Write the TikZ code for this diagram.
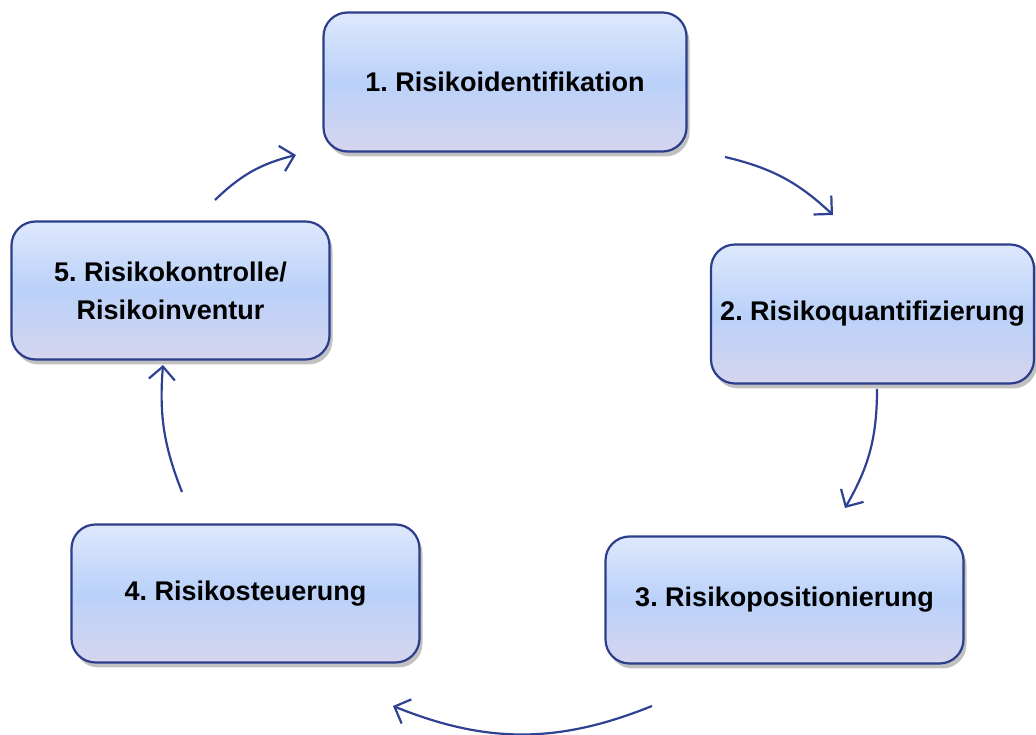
\documentclass[tikz,border=0pt]{standalone}
\usepackage{fontspec}
\setmainfont{Liberation Sans}
\usetikzlibrary{arrows.meta,shadows,calc}
\frenchspacing
\definecolor{boxtop}{HTML}{DDE8FC}
\definecolor{boxmid}{HTML}{BAD1F9}
\definecolor{boxbot}{HTML}{D5D5EE}
\definecolor{boxline}{HTML}{2B3D8B}
\definecolor{arrowcol}{HTML}{2E4193}
\tikzset{
  stepbox/.style={draw=boxline, line width=2.2pt, rounded corners=24pt,
    top color=boxtop, bottom color=boxbot, middle color=boxmid,
    drop shadow={shadow xshift=3pt, shadow yshift=-5pt, opacity=0.35, fill=black!70},
    align=center, inner sep=0pt,
    font=\fontsize{27}{38}\selectfont\bfseries\frenchspacing},
  cyc/.style={draw=arrowcol, line width=2.2pt, -{Straight Barb[length=13pt,width=26pt,line width=2.2pt]}}
}
\begin{document}
\begin{tikzpicture}[x=1pt,y=1pt]
\useasboundingbox (0,0) rectangle (1036,735);
\node[stepbox, minimum width=363pt, minimum height=139pt] (b1) at (505,653) {1. Risikoidentifikation};
\node[stepbox, minimum width=323pt, minimum height=139pt] (b2) at (872.5,421) {2. Risikoquantifizierung};
\node[stepbox, minimum width=358pt, minimum height=127pt] (b3) at (784.5,135) {3. Risikopositionierung};
\node[stepbox, minimum width=348pt, minimum height=138pt] (b4) at (245.5,141.5) {4. Risikosteuerung};
\node[stepbox, minimum width=318pt, minimum height=138pt] (b5) at (170.5,444.5) {5. Risikokontrolle/\\Risikoinventur};
\coordinate (a1s) at (725,578);
\coordinate (a1e) at (833,520);
\coordinate (a2s) at (877,346);
\coordinate (a2e) at (845,227);
\coordinate (a3s) at (652,29);
\coordinate (a3e) at (393,29);
\coordinate (a4s) at (182,243);
\coordinate (a4e) at (163,370);
\coordinate (a5s) at (215,535);
\coordinate (a5e) at (296,580);
\draw[cyc] (a1s) to[bend left=15] (a1e);
\draw[cyc] (a2s) to[bend left=15] (a2e);
\draw[cyc] (a3s) to[bend left=22] (a3e);
\draw[cyc] (a4s) to[bend left=13] (a4e);
\draw[cyc] (a5s) to[bend left=15] (a5e);
\end{tikzpicture}
\end{document}
